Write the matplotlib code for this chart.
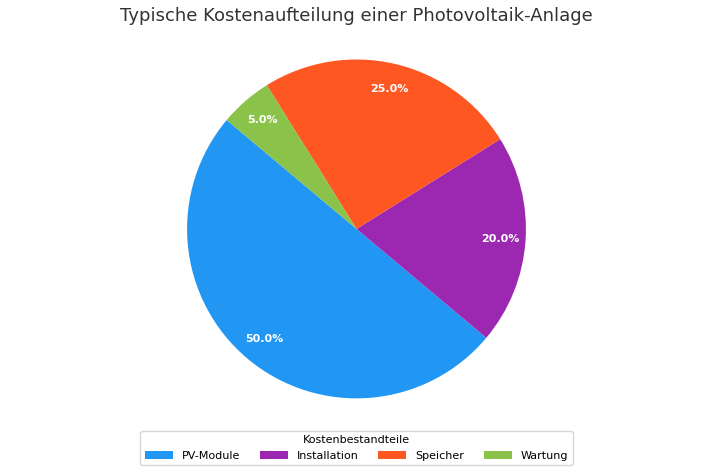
import matplotlib
matplotlib.use("Agg")
import matplotlib.pyplot as plt

labels = ["PV-Module", "Installation", "Speicher", "Wartung"]
values = [50, 20, 25, 5]
colors = ["#2196F3", "#9C27B0", "#FF5722", "#8BC34A"]

fig = plt.figure(figsize=(7.13, 4.73), dpi=100)
ax = fig.add_axes([0.1, 0.122, 0.8, 0.788])
wedges, texts, autotexts = ax.pie(values, colors=colors, startangle=140,
                                  autopct="%1.1f%%", pctdistance=0.85,
                                  textprops=dict(color="white", fontsize=8, fontweight="bold"))
ax.axis("equal")
fig.suptitle("Typische Kostenaufteilung einer Photovoltaik-Anlage", fontsize=13, color="#333333", y=0.985)
leg = fig.legend(wedges, labels, title="Kostenbestandteile", loc="lower center",
                 bbox_to_anchor=(0.5, 0.005), ncol=4, fontsize=8, title_fontsize=8,
                 handlelength=2.5, columnspacing=1.8)
fig.savefig("out.png", dpi=100)
